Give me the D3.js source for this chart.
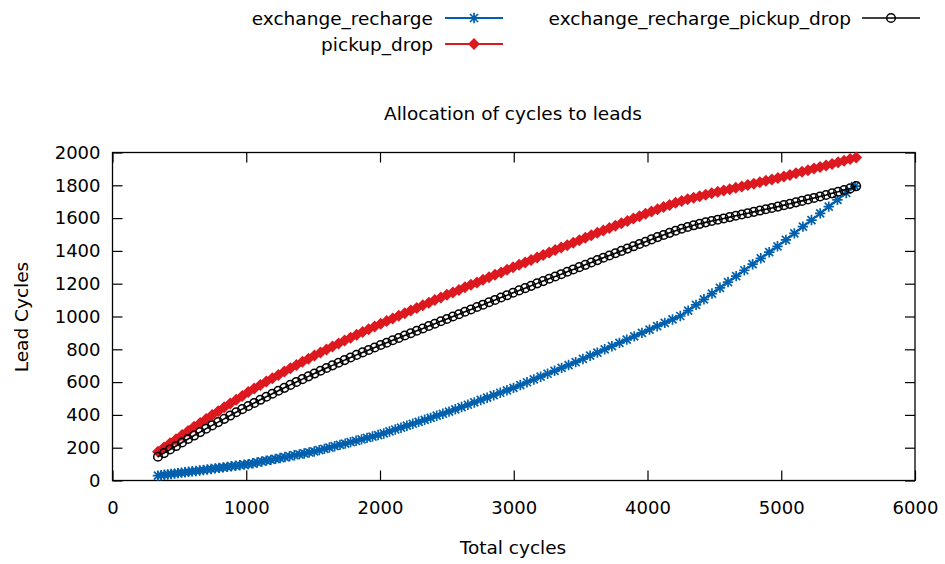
<!DOCTYPE html>
<html>
<head>
<meta charset="utf-8">
<script src="https://cdn.jsdelivr.net/npm/d3@7"></script>
<style>
  html, body { margin: 0; padding: 0; background: #fff; }
  svg { display: block; }
  text { font-family: "DejaVu Sans", sans-serif; fill: #000; }
</style>
</head>
<body>
<svg id="chart" width="945" height="564"></svg>
<script>
// Total cycles shared by the pickup/drop runs
const totalCycles = [
  340,385,430,475,520,565,610,655,700,745,
  790,835,880,925,970,1015,1060,1105,1150,1195,
  1240,1285,1330,1375,1420,1465,1510,1555,1600,1645,
  1690,1735,1780,1825,1870,1915,1960,2005,2050,2095,
  2140,2185,2230,2275,2320,2365,2410,2455,2500,2545,
  2590,2635,2680,2725,2770,2815,2860,2905,2950,2995,
  3040,3085,3130,3175,3220,3265,3310,3355,3400,3445,
  3490,3535,3580,3625,3670,3715,3760,3805,3850,3895,
  3940,3985,4030,4075,4120,4165,4210,4255,4300,4345,
  4390,4435,4480,4525,4570,4615,4660,4705,4750,4795,
  4840,4885,4930,4975,5020,5065,5110,5155,5200,5245,
  5290,5335,5380,5425,5470,5515,5560
];

const pickupDrop = [
  175,201,227,252,277,302,327,351,375,399,
  423,447,470,493,516,539,561,582,603,624,
  644,664,684,704,724,743,762,781,799,817,
  835,853,871,888,905,922,939,956,972,988,
  1004,1020,1036,1052,1068,1084,1100,1116,1132,1147,
  1162,1178,1193,1208,1224,1239,1254,1269,1285,1300,
  1315,1330,1345,1360,1375,1390,1405,1420,1435,1450,
  1465,1480,1495,1510,1525,1540,1554,1569,1583,1598,
  1612,1626,1640,1654,1667,1680,1693,1705,1715,1724,
  1733,1742,1751,1760,1768,1776,1785,1793,1802,1810,
  1819,1827,1836,1845,1854,1863,1873,1882,1892,1902,
  1911,1921,1930,1940,1950,1960,1970
];

const exchangeRechargePickupDrop = [
  145,167,189,210,232,253,274,295,316,336,
  356,376,396,416,435,454,473,492,511,529,
  547,565,583,601,618,635,652,669,686,702,
  718,734,750,766,781,796,811,826,840,855,
  869,884,898,913,927,942,956,971,985,1000,
  1014,1029,1043,1058,1072,1087,1101,1116,1130,1145,
  1159,1173,1187,1202,1216,1230,1244,1258,1273,1287,
  1301,1315,1329,1344,1358,1372,1386,1400,1414,1428,
  1442,1456,1470,1484,1497,1510,1523,1535,1546,1556,
  1565,1574,1582,1590,1598,1606,1614,1622,1630,1638,
  1646,1654,1662,1670,1679,1687,1696,1705,1714,1723,
  1732,1741,1751,1761,1771,1781,1795
];

// Total cycles for the exchange/recharge runs
const exchangeRechargeCycles = [
  340,364,388,413,438,464,489,516,542,569,
  596,624,652,680,709,738,768,797,828,858,
  889,920,952,984,1016,1049,1082,1116,1150,1184,
  1218,1253,1289,1324,1360,1397,1433,1470,1508,1546,
  1584,1622,1661,1701,1740,1780,1821,1862,1903,1944,
  1986,2028,2071,2114,2157,2201,2245,2289,2334,2379,
  2424,2470,2516,2563,2610,2657,2705,2753,2801,2850,
  2899,2949,2998,3049,3099,3150,3201,3253,3305,3358,
  3410,3463,3517,3571,3625,3680,3734,3790,3845,3901,
  3958,4015,4072,4129,4187,4245,4304,4363,4422,4482,
  4542,4602,4663,4724,4786,4847,4910,4972,5035,5098,
  5162,5226,5291,5355,5420,5486,5552
];

const exchangeRecharge = [
  30,32,35,37,40,42,45,48,50,53,
  56,58,61,64,67,70,74,77,80,83,
  87,90,93,97,100,105,110,116,121,126,
  132,137,143,148,154,159,165,171,177,185,
  193,201,209,217,225,234,242,251,260,268,
  277,287,299,311,322,334,346,358,370,382,
  395,407,420,434,448,462,476,491,505,520,
  535,550,565,582,599,616,633,651,669,687,
  704,722,741,761,780,800,819,839,859,879,
  900,920,941,961,982,1003,1036,1071,1105,1140,
  1175,1210,1246,1282,1319,1355,1392,1428,1467,1507,
  1548,1588,1629,1670,1711,1753,1795
];

const xTicks = [0, 1000, 2000, 3000, 4000, 5000, 6000];
const yTicks = [0, 200, 400, 600, 800, 1000, 1200, 1400, 1600, 1800, 2000];

const seriesList = [
  { name: "exchange_recharge", xs: exchangeRechargeCycles, ys: exchangeRecharge, color: "#0060ad", marker: "star", width: 2 },
  { name: "pickup_drop", xs: totalCycles, ys: pickupDrop, color: "#dd181f", marker: "diamond", width: 2 },
  { name: "exchange_recharge_pickup_drop", xs: totalCycles, ys: exchangeRechargePickupDrop, color: "#000000", marker: "circle", width: 1.6 }
];

const svg = d3.select("#chart");
const plot = { left: 112.5, right: 915, top: 152.5, bottom: 480.5 };

const x = d3.scaleLinear().domain([0, 6000]).range([plot.left, plot.right]);
const y = d3.scaleLinear().domain([0, 2000]).range([plot.bottom, plot.top]);

// Axes: inward ticks on all four sides, labels on bottom and left only
const axisStyle = g => {
  g.select(".domain").remove();
  g.selectAll(".tick line").attr("stroke", "#000").attr("stroke-width", 1.2);
  g.selectAll(".tick text").style("font-family", "DejaVu Sans, sans-serif").style("font-size", "18px").attr("fill", "#000");
};

svg.append("g")
  .attr("transform", `translate(0,${plot.bottom})`)
  .call(d3.axisBottom(x).tickValues(xTicks).tickFormat(d3.format("d")).tickSize(-10).tickPadding(21))
  .call(axisStyle);
svg.append("g")
  .attr("transform", `translate(0,${plot.top})`)
  .call(d3.axisTop(x).tickValues(xTicks).tickSize(-10).tickFormat(""))
  .call(axisStyle);
svg.append("g")
  .attr("transform", `translate(${plot.left},0)`)
  .call(d3.axisLeft(y).tickValues(yTicks).tickFormat(d3.format("d")).tickSize(-10).tickPadding(12))
  .call(axisStyle);
svg.append("g")
  .attr("transform", `translate(${plot.right},0)`)
  .call(d3.axisRight(y).tickValues(yTicks).tickSize(-10).tickFormat(""))
  .call(axisStyle);

// Plot border
svg.append("rect")
  .attr("x", plot.left).attr("y", plot.top)
  .attr("width", plot.right - plot.left).attr("height", plot.bottom - plot.top)
  .attr("fill", "none").attr("stroke", "#000").attr("stroke-width", 1.3);

// Marker shapes
function drawMarker(g, type, color, cx, cy) {
  if (type === "star") {
    const r = 5.2, d = 4;
    g.append("path")
      .attr("d", `M${cx - r},${cy}H${cx + r}M${cx},${cy - r}V${cy + r}M${cx - d},${cy - d}L${cx + d},${cy + d}M${cx - d},${cy + d}L${cx + d},${cy - d}`)
      .attr("stroke", color).attr("stroke-width", 1.7).attr("fill", "none");
  } else if (type === "diamond") {
    const r = 6;
    g.append("path")
      .attr("d", `M${cx},${cy - r}L${cx + r},${cy}L${cx},${cy + r}L${cx - r},${cy}Z`)
      .attr("fill", color).attr("stroke", "none");
  } else {
    g.append("circle")
      .attr("cx", cx).attr("cy", cy).attr("r", 4.3)
      .attr("fill", "none").attr("stroke", color).attr("stroke-width", 1.5);
  }
}

const line = d3.line().x(d => x(d[0])).y(d => y(d[1]));

seriesList.forEach(s => {
  const pts = s.xs.map((v, i) => [v, s.ys[i]]);
  const g = svg.append("g");
  g.append("path")
    .attr("d", line(pts))
    .attr("fill", "none").attr("stroke", s.color).attr("stroke-width", s.width);
  pts.forEach(p => drawMarker(g, s.marker, s.color, x(p[0]), y(p[1])));
});

// Title and axis labels
svg.append("text")
  .attr("x", 513).attr("y", 120).attr("text-anchor", "middle")
  .style("font-size", "18.5px").text("Allocation of cycles to leads");
svg.append("text")
  .attr("x", 513).attr("y", 554).attr("text-anchor", "middle")
  .style("font-size", "18.5px").text("Total cycles");
svg.append("text")
  .attr("transform", "translate(28,317) rotate(-90)").attr("text-anchor", "middle")
  .style("font-size", "18.5px").text("Lead Cycles");

// Legend: two rows, filled column by column
const legendItems = [
  { s: seriesList[0], textX: 433, lineX: 445, cy: 18 },
  { s: seriesList[1], textX: 433, lineX: 445, cy: 44 },
  { s: seriesList[2], textX: 851, lineX: 862, cy: 18 }
];
legendItems.forEach(item => {
  const g = svg.append("g");
  g.append("text")
    .attr("x", item.textX).attr("y", item.cy + 6.5).attr("text-anchor", "end")
    .style("font-size", "18.5px").text(item.s.name);
  g.append("line")
    .attr("x1", item.lineX).attr("x2", item.lineX + 58)
    .attr("y1", item.cy).attr("y2", item.cy)
    .attr("stroke", item.s.color).attr("stroke-width", item.s.width);
  drawMarker(g, item.s.marker, item.s.color, item.lineX + 29, item.cy);
});
</script>
</body>
</html>
